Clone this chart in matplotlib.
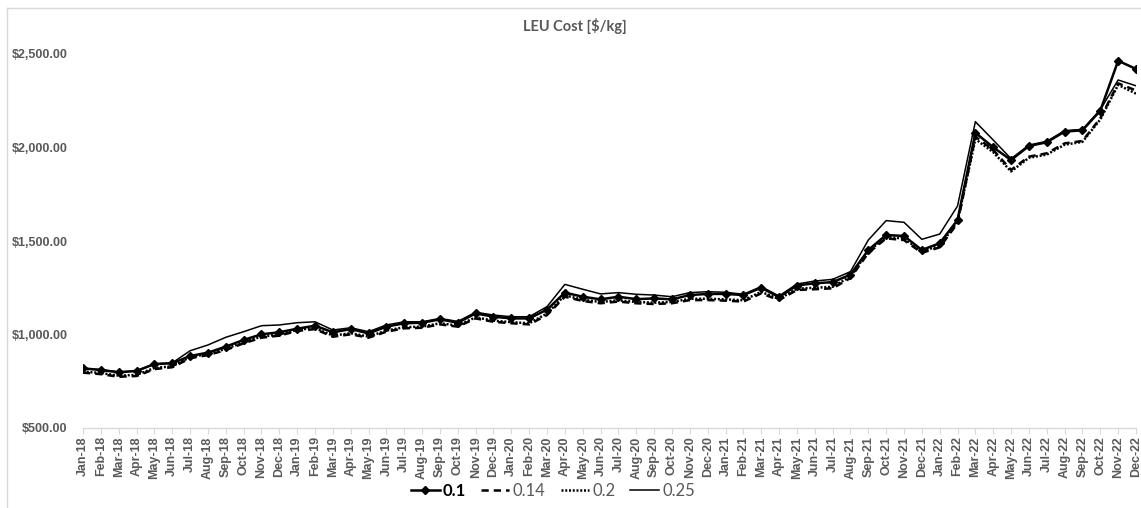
import matplotlib
matplotlib.use("Agg")
import matplotlib.pyplot as plt
from matplotlib.lines import Line2D

months = [f"{m}-{y}" for y in ["18", "19", "20", "21", "22"]
          for m in ["Jan", "Feb", "Mar", "Apr", "May", "Jun",
                    "Jul", "Aug", "Sep", "Oct", "Nov", "Dec"]]

# LEU cost [$/kg] per month for each tails assay
cost_010 = [819, 810, 798, 805, 842, 846, 885, 903, 935, 971, 1001, 1012,
            1031, 1047, 1012, 1029, 1006, 1042, 1060, 1063, 1081, 1063, 1113, 1095,
            1086, 1086, 1133, 1224, 1202, 1188, 1202, 1189, 1193, 1188, 1211, 1217,
            1217, 1211, 1250, 1200, 1262, 1274, 1280, 1320, 1452, 1532, 1527, 1452,
            1488, 1612, 2079, 2001, 1933, 2008, 2028, 2085, 2092, 2197, 2464, 2420]
cost_014 = [796, 788, 774, 778, 815, 825, 873, 890, 917, 953, 983, 994,
            1019, 1029, 988, 1001, 983, 1015, 1033, 1036, 1054, 1042, 1086, 1068,
            1060, 1054, 1104, 1202, 1179, 1167, 1176, 1167, 1163, 1167, 1184, 1184,
            1181, 1176, 1220, 1184, 1238, 1242, 1247, 1302, 1436, 1514, 1505, 1437,
            1466, 1595, 2058, 1987, 1880, 1951, 1969, 2022, 2035, 2156, 2343, 2305]
cost_020 = [802, 794, 780, 784, 821, 830, 879, 896, 923, 959, 989, 1000,
            1025, 1035, 994, 1007, 989, 1021, 1039, 1042, 1060, 1048, 1092, 1074,
            1066, 1060, 1112, 1210, 1186, 1174, 1183, 1174, 1170, 1174, 1191, 1191,
            1188, 1183, 1228, 1190, 1245, 1250, 1255, 1310, 1445, 1522, 1513, 1445,
            1474, 1604, 2045, 1975, 1872, 1945, 1962, 2015, 2030, 2150, 2335, 2288]
cost_025 = [819, 812, 800, 805, 843, 848, 913, 944, 985, 1015, 1047, 1051,
            1063, 1068, 1024, 1036, 1015, 1051, 1068, 1068, 1086, 1070, 1119, 1104,
            1095, 1095, 1149, 1268, 1242, 1217, 1224, 1215, 1211, 1202, 1224, 1229,
            1226, 1215, 1256, 1206, 1270, 1286, 1295, 1336, 1505, 1609, 1600, 1509,
            1537, 1687, 2138, 2040, 1940, 2013, 2033, 2090, 2097, 2202, 2361, 2330]

y_ticks = [500, 1000, 1500, 2000, 2500]
series_names = ["0.1", "0.14", "0.2", "0.25"]

GRAY = "#595959"
LIGHT = "#d9d9d9"
tick_font = {"family": "Liberation Sans", "weight": "bold", "size": 9, "color": GRAY}

fig = plt.figure(figsize=(11.41, 5.08), dpi=100)
ax = fig.add_axes([83 / 1141, 1 - 428 / 508, (1136 - 83) / 1141, (428 - 54) / 508])

x = list(range(len(months)))
ax.plot(x, cost_010, color="black", lw=1.8, marker="D", markersize=4.2,
        label=series_names[0], zorder=4)
ax.plot(x, cost_014, color="black", lw=1.8, linestyle=(0, (2.9, 2.0)),
        label=series_names[1], zorder=3)
ax.plot(x, cost_020, color="black", lw=1.8, linestyle=(0, (0.8, 0.7)),
        label=series_names[2], zorder=3)
ax.plot(x, cost_025, color="black", lw=1.1, label=series_names[3], zorder=5)

ax.set_xlim(0, len(months) - 1)
ax.set_ylim(500, 2500)
ax.set_yticks(y_ticks)
ax.set_yticklabels([f"${v:,.2f}" for v in y_ticks], fontdict=tick_font)
ax.set_xticks(x)
ax.set_xticklabels(months, rotation=90, fontdict=tick_font)

for s in ["top", "right", "left"]:
    ax.spines[s].set_visible(False)
ax.spines["bottom"].set_color(LIGHT)
ax.spines["bottom"].set_linewidth(1.0)
ax.tick_params(axis="y", length=0, pad=11)
ax.tick_params(axis="x", length=4, color=LIGHT, pad=2)

fig.text(575 / 1141, 1 - 26 / 508, "LEU Cost [$/kg]", ha="center", va="center",
         fontsize=10.5, fontweight="bold", color=GRAY, family="Lato")

leg = fig.legend(loc="center", bbox_to_anchor=(553 / 1141, 1 - 491 / 508),
                 ncol=4, frameon=False, handlelength=1.7, handletextpad=0.2,
                 columnspacing=0.9, prop={"family": "Lato", "size": 12})
for i, t in enumerate(leg.get_texts()):
    if i == 0:
        t.set_color("black")
        t.set_fontweight("bold")
    else:
        t.set_color(GRAY)

# chart-area border
fig.add_artist(Line2D([7 / 1141, 7 / 1141], [0, 1 - 8 / 508], color=LIGHT, lw=1.0,
                      transform=fig.transFigure))
fig.add_artist(Line2D([7 / 1141, 1], [1 - 8 / 508, 1 - 8 / 508], color=LIGHT, lw=1.0,
                      transform=fig.transFigure))

fig.savefig("out.png", dpi=100, facecolor="white")
